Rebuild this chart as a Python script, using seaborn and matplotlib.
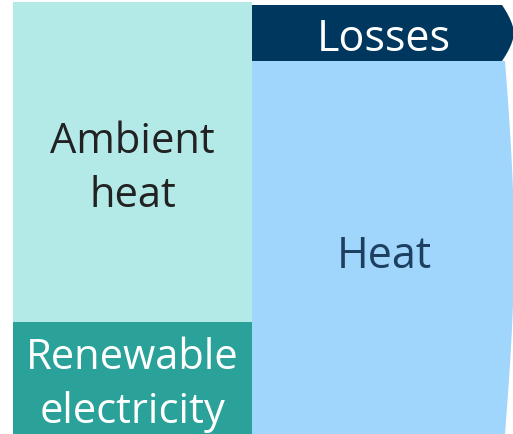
import numpy as np
import seaborn as sns
import matplotlib.pyplot as plt

# energy flows (drawn in pixel-like units, stacked bottom-up)
left_labels = ["Renewable\nelectricity", "Ambient\nheat"]
left_values = [112, 320]
left_colors = ["#2aa199", "#b3eae8"]
left_text = ["white", "#222222"]

right_labels = ["Heat", "Losses"]
right_values = [373, 56]
right_colors = ["#a0d5fc", "#00375f"]
right_text = ["#1d3f60", "white"]

sns.set_theme(style="white")
plt.rcParams["font.family"] = ["Open Sans", "DejaVu Sans"]

fig = plt.figure(figsize=(5.13, 4.35), dpi=100)
ax = fig.add_axes([0, 0, 1, 1])
ax.set_xlim(0, 513)
ax.set_ylim(0, 435)
ax.axis("off")

# left column: plain stacked bars
left_x0, left_x1 = 13, 252
bottom = 0
for lab, val, col, tc in zip(left_labels, left_values, left_colors, left_text):
    ax.bar((left_x0 + left_x1) / 2, val, width=left_x1 - left_x0, bottom=bottom,
           color=col, edgecolor="none")
    ax.text((left_x0 + left_x1) / 2, bottom + val / 2 - 6, lab,
            ha="center", va="center", color=tc, fontsize=30, linespacing=1.4)
    bottom += val

# right column: bars with a bulging right edge
right_x0, right_x1 = 252, 505
bottom = 0
for i, (lab, val, col, tc) in enumerate(zip(right_labels, right_values, right_colors, right_text)):
    t = np.linspace(0, 1, 80)
    ys = bottom + val * t
    if i == 0:
        xs = right_x1 + 9 * np.sin(np.pi * t)
    else:
        xs = right_x1 - 3 + 12 * (1 - np.abs(2 * t - 1) ** 1.6)
    px = np.concatenate([[right_x0], xs, [right_x0]])
    py = np.concatenate([[bottom], ys, [bottom + val]])
    ax.fill(px, py, color=col, lw=0)
    ax.text(384, bottom + val / 2 - (8 if i == 0 else 6), lab, ha="center", va="center",
            color=tc, fontsize=31)
    bottom += val

fig.savefig("out.png", dpi=100)
